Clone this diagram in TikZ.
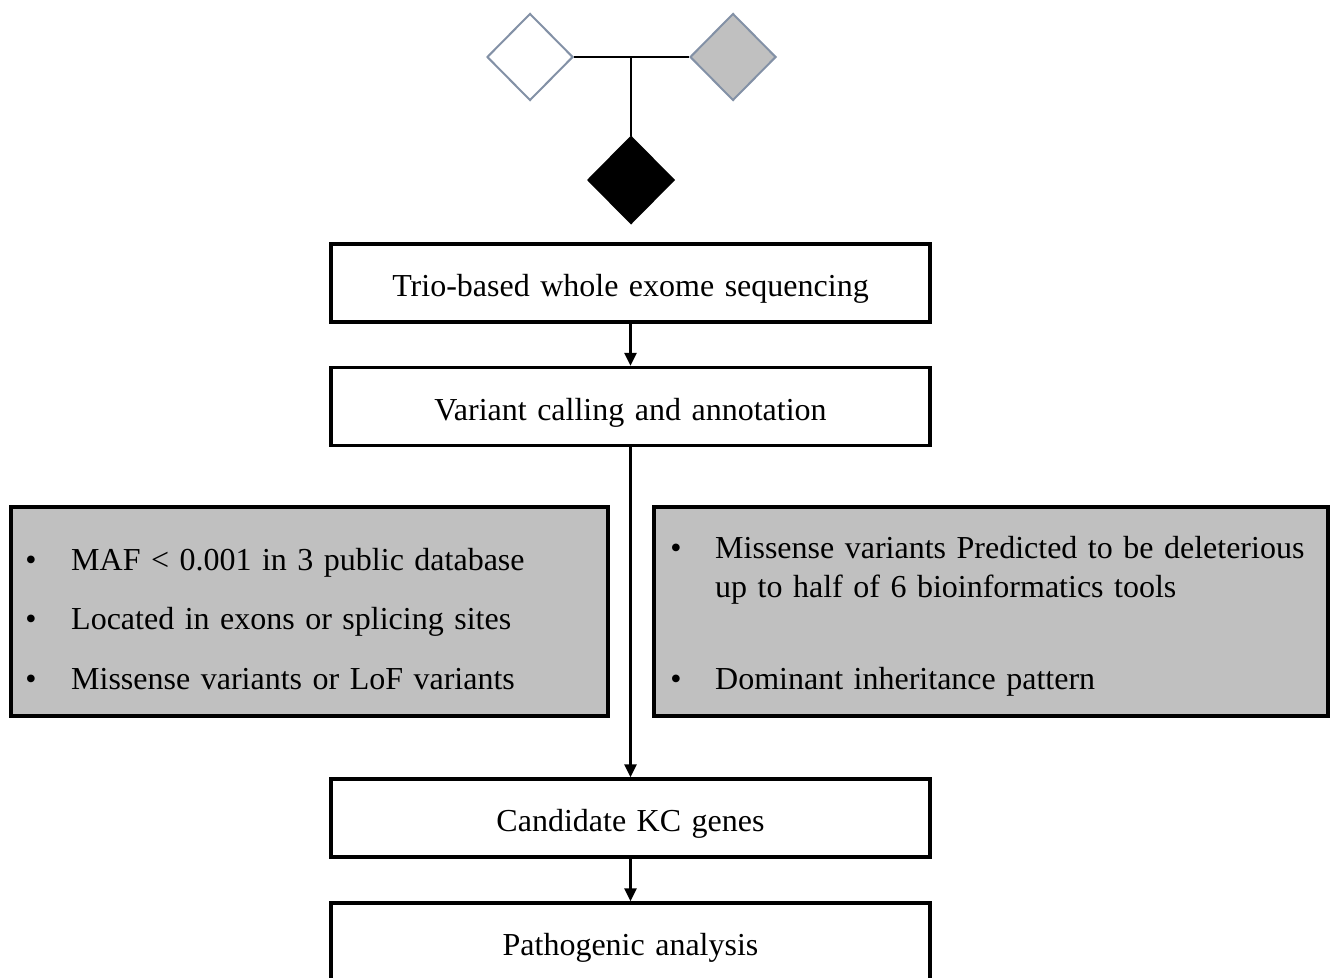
\documentclass[tikz,border=0pt]{standalone}
\usepackage{fontspec}
\setmainfont{Liberation Serif}
\usetikzlibrary{shapes.geometric,arrows.meta}
\definecolor{dborder}{HTML}{8391A6}
\definecolor{boxgrey}{HTML}{C0C0C0}
\newcommand\diagfont{\fontsize{32}{38}\selectfont\spaceskip=10.5pt\relax}
\begin{document}
\begin{tikzpicture}[x=1pt,y=-1pt,
  every node/.style={font=\diagfont},
  dia/.style={diamond,aspect=1,minimum width=86pt,minimum height=87pt,inner sep=0pt,line width=2pt},
  flowbox/.style={draw,line width=3.2pt,minimum width=599pt,minimum height=78pt,inner sep=0pt,fill=white,text height=34pt,text depth=7pt},
  greybox/.style={draw,line width=3.2pt,fill=boxgrey,inner sep=0pt},
  item/.style={anchor=base west,inner sep=0pt},
  bul/.style={anchor=base,inner sep=0pt},
  conn/.style={line width=2.6pt,-{Triangle[length=13pt,width=12pt]}},
  pedline/.style={line width=1.8pt}
]
\useasboundingbox (0,0) rectangle (1330,977);
% pedigree
\node[dia,draw=dborder,fill=white] (mom) at (530,57) {};
\node[dia,draw=dborder,fill=boxgrey] (dad) at (733,57) {};
\node[dia,draw=black,fill=black] (child) at (631,180) {};
\draw[pedline] (mom.east) -- (dad.west);
\coordinate (mid) at (631,57);
\draw[pedline] (mid) -- (child.north);
% main boxes
\node[flowbox] (b1) at (630.5,283) {Trio-based whole exome sequencing};
\node[flowbox] (b2) at (630.5,406.5) {Variant calling and annotation};
\node[flowbox] (b3) at (630.5,818) {Candidate KC genes};
\node[flowbox] (b4) at (630.5,942) {Pathogenic analysis};
% grey filter boxes
\node[greybox,minimum width=597pt,minimum height=209pt] (gl) at (309.5,611.5) {};
\node[greybox,minimum width=674pt,minimum height=209pt] (gr) at (991,611.5) {};
% left items
\node[bul] (lb1) at (31,570) {•};
\node[item] (lt1) at (71,570) {MAF < 0.001 in 3 public database};
\node[bul] (lb2) at (31,629) {•};
\node[item] (lt2) at (71,629) {Located in exons or splicing sites};
\node[bul] (lb3) at (31,689) {•};
\node[item] (lt3) at (71,689) {Missense variants or LoF variants};
% right items
\node[bul] (rb1) at (676,558) {•};
\node[item] (rt1) at (715,558) {Missense variants Predicted to be deleterious};
\node[item] (rt2) at (715,597) {up to half of 6 bioinformatics tools};
\node[bul] (rb3) at (676,689) {•};
\node[item] (rt3) at (715,689) {Dominant inheritance pattern};
% connectors
\draw[conn] (b1.south) -- (b2.north);
\draw[conn] (b2.south) -- (b3.north);
\draw[conn] (b3.south) -- (b4.north);
\end{tikzpicture}
\end{document}
